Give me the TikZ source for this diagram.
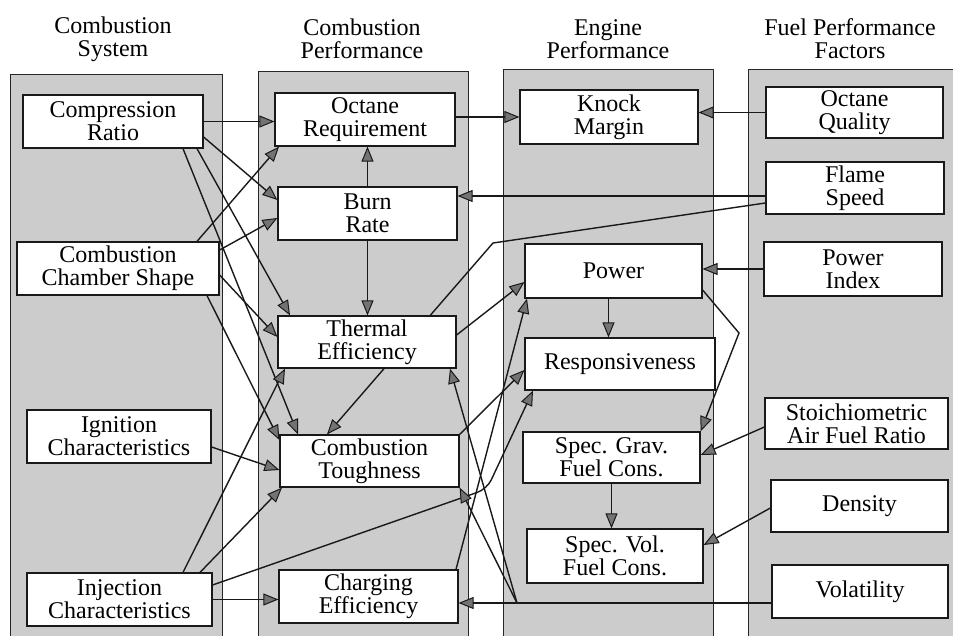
\documentclass[tikz,border=0pt]{standalone}
\usepackage{fontspec}
\setmainfont{Liberation Serif}
\usetikzlibrary{arrows.meta,calc}
\pgfdeclarelayer{cols}
\pgfdeclarelayer{links}
\pgfsetlayers{cols,links,main}
\begin{document}
\begin{tikzpicture}[x=1pt,y=-1pt,
  bx/.style={draw=black!90, line width=1.2pt, fill=white, align=center, inner sep=0pt, font=\fontsize{24}{23}\selectfont},
  hd/.style={align=center, inner sep=0pt, font=\fontsize{24}{23}\selectfont},
  col/.style={draw=black!85, line width=1pt, fill=black!20},
  lk/.style={line width=1.4pt, draw=black!90, -{Triangle[length=15pt,width=12pt,fill=black!55,line width=1pt]}}]

\useasboundingbox (0,0) rectangle (953,636);
\clip (0,0) rectangle (953,636);

% headers
\node[hd] (h1) at (113,39) {Combustion\\System};
\node[hd] (h2) at (362,39) {Combustion\\Performance};
\node[hd] (h3) at (608,39) {Engine\\Performance};
\node[hd] (h4) at (850,39) {Fuel Performance\\Factors};

% column 1
\node[bx, minimum width=180pt, minimum height=53pt] (cr) at (113,121.5) {Compression\\Ratio};
\node[bx, minimum width=202pt, minimum height=53pt] (cc) at (118,268.5) {Combustion\\Chamber Shape};
\node[bx, minimum width=184pt, minimum height=53pt] (ig) at (119,436.5) {Ignition\\Characteristics};
\node[bx, minimum width=185pt, minimum height=53pt] (ij) at (119.5,599.5) {Injection\\Characteristics};
% column 2
\node[bx, minimum width=180pt, minimum height=53pt] (oreq) at (365,119.5) {Octane\\Requirement};
\node[bx, minimum width=179pt, minimum height=53pt] (br) at (367.5,213.5) {Burn\\Rate};
\node[bx, minimum width=178pt, minimum height=52pt] (te) at (367,342) {Thermal\\Efficiency};
\node[bx, minimum width=179pt, minimum height=52pt] (ct) at (369.5,461) {Combustion\\Toughness};
\node[bx, minimum width=179pt, minimum height=53pt] (ce) at (368.5,596.5) {Charging\\Efficiency};
% column 3
\node[bx, minimum width=178pt, minimum height=54pt] (km) at (609,117) {Knock\\Margin};
\node[bx, minimum width=177pt, minimum height=54pt] (pw) at (613.5,271) {Power};
\node[bx, minimum width=190pt, minimum height=52pt] (rs) at (620,364) {Responsiveness};
\node[bx, minimum width=177pt, minimum height=51pt] (sg) at (611.5,457.5) {Spec. Grav.\\Fuel Cons.};
\node[bx, minimum width=176pt, minimum height=54pt] (sv) at (615,556) {Spec. Vol.\\Fuel Cons.};
% column 4
\node[bx, minimum width=177pt, minimum height=51pt] (oq) at (854.5,112.5) {Octane\\Quality};
\node[bx, minimum width=178pt, minimum height=52pt] (fs) at (855,188) {Flame\\Speed};
\node[bx, minimum width=178pt, minimum height=54pt] (pix) at (853,269) {Power\\Index};
\node[bx, minimum width=183pt, minimum height=51pt] (sto) at (856.5,423.5) {Stoichiometric\\Air Fuel Ratio};
\node[bx, minimum width=177pt, minimum height=52pt] (den) at (859.5,506) {Density};
\node[bx, minimum width=176pt, minimum height=53pt] (vol) at (860,591.5) {Volatility};

\begin{pgfonlayer}{cols}
\draw[col] (10,75) rectangle (222,660);
\draw[col] (258,72) rectangle (468,660);
\draw[col] (503,70) rectangle (713,660);
\draw[col] (748,70) rectangle (975,660);
\end{pgfonlayer}

\begin{pgfonlayer}{links}
% top row
\draw[lk] (cr.east) -- (oreq.west |- cr.east);
\draw[lk] (oreq.east |- km.west) -- (km.west);
\draw[lk] (oq.west) -- (km.east |- oq.west);
\draw[lk] (br.north) -- (oreq.south -| br.north);
% flame speed
\coordinate (fsA) at ([yshift=-8pt]fs.west);
\draw[lk] (fsA) -- (br.east |- fsA);
\coordinate (fsB) at ([yshift=-15pt]fs.west);
\coordinate (fsK) at (493,243);
\draw[lk] (fsB) -- (fsK) -- ([xshift=-42.5pt]ct.north);
% compression ratio
\draw[lk] ([yshift=-15.5pt]cr.east) -- ([yshift=13.5pt]br.west);
\draw[lk] ([xshift=84pt]cr.south) -- ([xshift=-77pt]te.north);
\draw[lk] ([xshift=70pt]cr.south) -- ([xshift=-71.5pt]ct.north);
% chamber shape
\draw[lk] ([xshift=79pt]cc.north) -- ([xshift=-86pt]oreq.south);
\draw[lk] ([yshift=18.5pt]cc.east) -- ([yshift=-4.5pt]br.west);
\draw[lk] ([yshift=-6.5pt]cc.east) -- ([yshift=5pt]te.west);
\draw[lk] ([xshift=89pt]cc.south) -- ([yshift=21pt]ct.west);
% burn rate -> thermal
\draw[lk] (br.south) -- (te.north -| br.south);
% ignition
\draw[lk] ([yshift=-10.5pt]ig.east) -- ([yshift=-9pt]ct.west);
% injection
\draw[lk] (ij.east) -- (ce.west |- ij.east);
\draw[lk] ([xshift=63.5pt]ij.north) -- ([xshift=-82pt]te.south);
\draw[lk] ([xshift=80.5pt]ij.north) -- ([xshift=-87.5pt]ct.south);
\coordinate (ijK) at (487,489);
\draw[lk, rounded corners=10pt] ([yshift=14.5pt]ij.east) -- (ijK) -- ([xshift=-87pt]rs.south);
% to power / responsiveness
\draw[lk] ([xshift=87.5pt]ce.north) -- ([xshift=-86.5pt]pw.south);
\draw[lk] ([yshift=7pt]te.east) -- ([yshift=-11pt]pw.west);
\draw[lk] (ct.north east) -- ([yshift=-6pt]rs.west);
\coordinate (pwS) at ([xshift=-5pt]pw.south);
\draw[lk] (pwS) -- (rs.north -| pwS);
\draw[lk] (pix.west) -- (pw.east |- pix.west);
\coordinate (pwK) at (739,333);
\draw[lk] ([yshift=-19pt]pw.east) -- (pwK) -- (sg.north east);
% fuel consumption
\draw[lk] ([yshift=-3.5pt]sto.west) -- ([yshift=2.5pt]sg.east);
\draw[lk] (sg.south) -- (sv.north -| sg.south);
\draw[lk] ([yshift=-2pt]den.west) -- ([yshift=11pt]sv.east);
% volatility
\coordinate (voA) at ([yshift=-11.5pt]vol.west);
\draw[lk] (voA) -- (ce.east |- voA);
\coordinate (vj) at (517,603);
\draw[lk] (vj) -- ([xshift=83pt]te.south);
\draw[lk] (vj) -- (ct.south east);
\end{pgfonlayer}
\end{tikzpicture}
\end{document}
